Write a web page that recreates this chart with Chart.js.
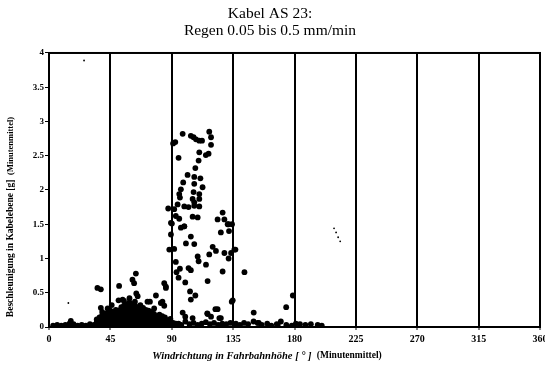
<!DOCTYPE html>
<html><head><meta charset="utf-8">
<script src="https://cdn.jsdelivr.net/npm/chart.js@4/dist/chart.umd.min.js"></script>
<style>html,body{margin:0;padding:0;background:#fff}</style>
</head><body>
<canvas id="c" width="545" height="367"></canvas>
<script>
// ---- data (deg, g) ----
const titleLines = ['Kabel AS 23:', 'Regen 0.05 bis 0.5 mm/min'];
const xAxisTitle = 'Windrichtung in Fahrbahnhöhe [ ° ]';
const xAxisNote = '(Minutenmittel)';
const yAxisTitle = 'Beschleunigung in Kabelebene [g]';
const yAxisNote = '(Minutenmittel)';
const xTickValues = [0, 45, 90, 135, 180, 225, 270, 315, 360];
const yTickValues = [0, 0.5, 1, 1.5, 2, 2.5, 3, 3.5, 4];

const upperCluster = [
  [98,2.82],[92.6,2.70],[91,2.68],[104,2.79],[106,2.77],[107.8,2.74],[110.2,2.72],[112.2,2.72],
  [117.5,2.85],[118.8,2.77],[118.8,2.66],[110.2,2.55],[117,2.53],[115,2.51],[95,2.47],[109.7,2.43],
  [107.3,2.32],[101.6,2.22],[106.5,2.19],[111,2.17],[98.4,2.11],[106.5,2.09],[112.6,2.04],[96.7,2.01],
  [95.5,1.94],[106,1.97],[110.2,1.94],[96,1.89],[105.3,1.87],[110.2,1.87],[106.5,1.82],[94.3,1.79],
  [99.2,1.76],[102.3,1.75],[106.5,1.77],[110.2,1.76],[87.4,1.73],[91.8,1.72],[93,1.62],[95.5,1.58],
  [105.3,1.61],[109,1.60],[123.6,1.57],[127.3,1.67],[128.6,1.57],[131,1.50],[89.4,1.52],[99.2,1.47]
];
const midCluster = [
  [90.1,1.51],[96.7,1.45],[99.2,1.47],[126,1.38],[131.7,1.50],[132,1.40],[134.2,1.50],[89.4,1.35],
  [104,1.32],[100.4,1.22],[106.5,1.21],[120,1.17],[122.4,1.11],[128.6,1.08],[135.9,1.13],[136.7,1.13],
  [133.5,1.08],[88.2,1.13],[91.8,1.14],[109,1.03],[117.5,1.06],[131.7,1.0],[109.7,0.96],[93,0.95],
  [115.1,0.91],[102.3,0.86],[96,0.85],[93.5,0.80],[104,0.83],[127.3,0.81],[143.3,0.80],[95,0.72],
  [99.9,0.65],[116.3,0.67],[84.5,0.64],[85.7,0.59],[103.4,0.52],[107.3,0.46],[104,0.40],[134.7,0.39],
  [83.2,0.37],[84.5,0.31],[123.6,0.26],[116.3,0.19],[118.8,0.15],[124.9,0.13],[98,0.21],[99.9,0.15],
  [105.3,0.13],[116,0.20],[122,0.26],[126,0.13],[134,0.37],[85.7,0.57],[150.1,0.21],[178.8,0.46],
  [173.9,0.29],[153.8,0.06],[167.7,0.03]
];
const lowCluster = [
  [35,0.03],[35,0.07],[35,0.11],[37,0.02],[37,0.06],[37,0.10],[37,0.14],
  [39,0.03],[39,0.08],[39,0.12],[39,0.17],[39,0.22],[38,0.28],[35.5,0.57],[38,0.55],
  [41,0.02],[41,0.05],[41,0.09],[41,0.13],[41,0.19],
  [43,0.03],[43,0.07],[43,0.11],[43,0.16],[43,0.21],[43,0.27],
  [45,0.02],[45,0.06],[45,0.10],[45,0.14],[45,0.18],[45,0.24],[46,0.32],
  [47,0.03],[47,0.08],[47,0.12],[47,0.17],[47,0.22],
  [49,0.02],[49,0.05],[49,0.09],[49,0.14],[49,0.20],[49,0.25],
  [51,0.03],[51,0.07],[51,0.11],[51,0.15],[51,0.19],[51,0.24],[51,0.39],[51.4,0.60],
  [53,0.02],[53,0.06],[53,0.10],[53,0.14],[53,0.18],[53,0.23],[53,0.29],[54,0.40],
  [55,0.03],[55,0.08],[55,0.12],[55,0.16],[55,0.21],[55,0.26],[55,0.31],[55,0.38],
  [57,0.02],[57,0.06],[57,0.10],[57,0.15],[57,0.19],[57,0.24],[57,0.28],[57,0.33],
  [59,0.03],[59,0.07],[59,0.11],[59,0.16],[59,0.20],[59,0.25],[59,0.30],[59,0.36],[59,0.42],
  [61,0.02],[61,0.05],[61,0.09],[61,0.13],[61,0.18],[61,0.22],[61,0.27],[61,0.33],[61.2,0.69],
  [63,0.03],[63,0.08],[63,0.12],[63,0.17],[63,0.21],[63,0.26],[63,0.31],[63,0.37],[63.7,0.78],[62.4,0.64],
  [65,0.02],[65,0.06],[65,0.10],[65,0.14],[65,0.19],[65,0.24],[65,0.29],[65,0.45],[64,0.49],
  [67,0.03],[67,0.07],[67,0.11],[67,0.16],[67,0.21],[67,0.26],[67,0.32],
  [69,0.02],[69,0.05],[69,0.09],[69,0.13],[69,0.18],[69,0.23],[69,0.28],
  [71,0.03],[71,0.07],[71,0.12],[71,0.16],[71,0.21],[71,0.25],[72.2,0.37],
  [73,0.02],[73,0.06],[73,0.10],[73,0.15],[73,0.19],[73,0.24],[74,0.37],
  [75,0.03],[75,0.08],[75,0.12],[75,0.17],[75,0.22],
  [77,0.02],[77,0.05],[77,0.09],[77,0.14],[77,0.19],[77.1,0.27],[78.4,0.46],
  [79,0.03],[79,0.07],[79,0.11],[79,0.16],
  [81,0.02],[81,0.06],[81,0.10],[81,0.13],[81,0.18],[82,0.35],
  [83,0.03],[83,0.07],[83,0.12],[83,0.16],
  [85,0.02],[85,0.05],[85,0.09],[85,0.14],
  [87,0.03],[87,0.07],[87,0.10],
  [89,0.02],[89,0.05],[89,0.09],[89,0.12],
  [91,0.03],[91,0.06],[93,0.02],[93,0.05]
];
const baseline = [
  [3,0.02],[6,0.03],[9,0.02],[12,0.03],[15,0.05],[16,0.09],[18,0.04],[21,0.02],[24,0.03],[27,0.02],
  [30,0.04],[33,0.03],
  [95,0.05],[97,0.03],[100,0.08],[103,0.04],[106,0.06],[109,0.03],[112,0.05],[115,0.07],[118,0.04],
  [121,0.06],[124,0.03],[127,0.05],[130,0.04],[133,0.06],
  [137,0.05],[140,0.03],[143,0.06],[146,0.04],[150,0.08],[153,0.06],[156,0.03],[160,0.05],[163,0.02],
  [167,0.04],[170,0.08],[174,0.03],[178,0.02],[181,0.05],[184,0.04],[188,0.03],[192,0.04],[197,0.03],[200,0.02]
];
const specks = [[25.7,3.89],[14.2,0.35],[209,1.44],[210.5,1.38],[212,1.31],[213.5,1.25]];

const toPts = arr => arr.map(([x, y]) => ({x, y}));
const mainPoints = [...upperCluster, ...midCluster, ...lowCluster, ...baseline];

const SERIF = '"Liberation Serif", "DejaVu Serif", serif';

const framePlugin = {
  id: 'frame',
  beforeDatasetsDraw(chart) {
    const {ctx, chartArea: a} = chart;
    ctx.save();
    ctx.strokeStyle = '#000';
    ctx.lineWidth = 2;
    ctx.strokeRect(a.left, a.top, a.right - a.left, a.bottom - a.top);
    ctx.restore();
  },
  afterDraw(chart) {
    const {ctx} = chart;
    ctx.save();
    ctx.fillStyle = '#000';
    ctx.textBaseline = 'middle';
    // x axis title
    ctx.font = 'italic bold 10.5px ' + SERIF;
    const w1 = ctx.measureText(xAxisTitle + '  ').width;
    ctx.font = 'bold 9.5px ' + SERIF;
    const w2 = ctx.measureText(xAxisNote).width;
    let x0 = 267 - (w1 + w2) / 2;
    ctx.textAlign = 'left';
    ctx.font = 'italic bold 10.5px ' + SERIF;
    ctx.fillText(xAxisTitle + '  ', x0, 356);
    ctx.font = 'bold 9.5px ' + SERIF;
    ctx.fillText(xAxisNote, x0 + w1, 356);
    // y axis title
    ctx.translate(11, 217);
    ctx.rotate(-Math.PI / 2);
    ctx.font = 'bold 9.5px ' + SERIF;
    const v1 = ctx.measureText(yAxisTitle + '  ').width;
    ctx.font = 'bold 8.5px ' + SERIF;
    const v2 = ctx.measureText(yAxisNote).width;
    const y0 = -(v1 + v2) / 2;
    ctx.font = 'bold 9.5px ' + SERIF;
    ctx.fillText(yAxisTitle + '  ', y0, 0);
    ctx.font = 'bold 8.5px ' + SERIF;
    ctx.fillText(yAxisNote, y0 + v1, 0);
    ctx.restore();
  }
};

new Chart(document.getElementById('c'), {
  type: 'scatter',
  data: {
    datasets: [
      {data: toPts(mainPoints), backgroundColor: '#000', borderWidth: 0, pointRadius: 2.9},
      {data: toPts(specks), backgroundColor: '#000', borderWidth: 0, pointRadius: 0.9}
    ]
  },
  options: {
    responsive: false,
    animation: false,
    devicePixelRatio: 1,
    layout: {padding: {left: 0, right: 5, top: 0, bottom: 0}},
    plugins: {
      legend: {display: false},
      tooltip: {enabled: false},
      title: {
        display: true,
        text: titleLines,
        color: '#000',
        font: {family: SERIF, size: 15.5, weight: 'normal', lineHeight: 1.08},
        padding: {top: 6, bottom: 13.5}
      }
    },
    scales: {
      x: {
        type: 'linear', min: 0, max: 360,
        afterBuildTicks: s => { s.ticks = xTickValues.map(v => ({value: v})); },
        ticks: {color: '#000', font: {family: SERIF, size: 10, weight: 'bold'}, padding: 3, maxRotation: 0, autoSkip: false,
                callback: v => String(v)},
        grid: {color: '#000', lineWidth: 2, drawTicks: true, tickLength: 3, tickColor: '#000', tickWidth: 1},
        border: {display: true, color: '#000', width: 2},
        afterFit: s => { s.height = 40; s.paddingLeft = 0; s.paddingRight = 0; }
      },
      y: {
        type: 'linear', min: 0, max: 4,
        afterBuildTicks: s => { s.ticks = yTickValues.map(v => ({value: v})); },
        ticks: {color: '#000', font: {family: SERIF, size: 9, weight: 'bold'}, padding: 1, autoSkip: false,
                callback: v => String(v)},
        grid: {drawOnChartArea: false, drawTicks: true, tickLength: 4, tickColor: '#000', tickWidth: 1},
        border: {display: true, color: '#000', width: 2},
        afterFit: s => { s.width = 49; s.paddingTop = 0; s.paddingBottom = 0; }
      }
    }
  },
  plugins: [framePlugin]
});
</script>
</body></html>
